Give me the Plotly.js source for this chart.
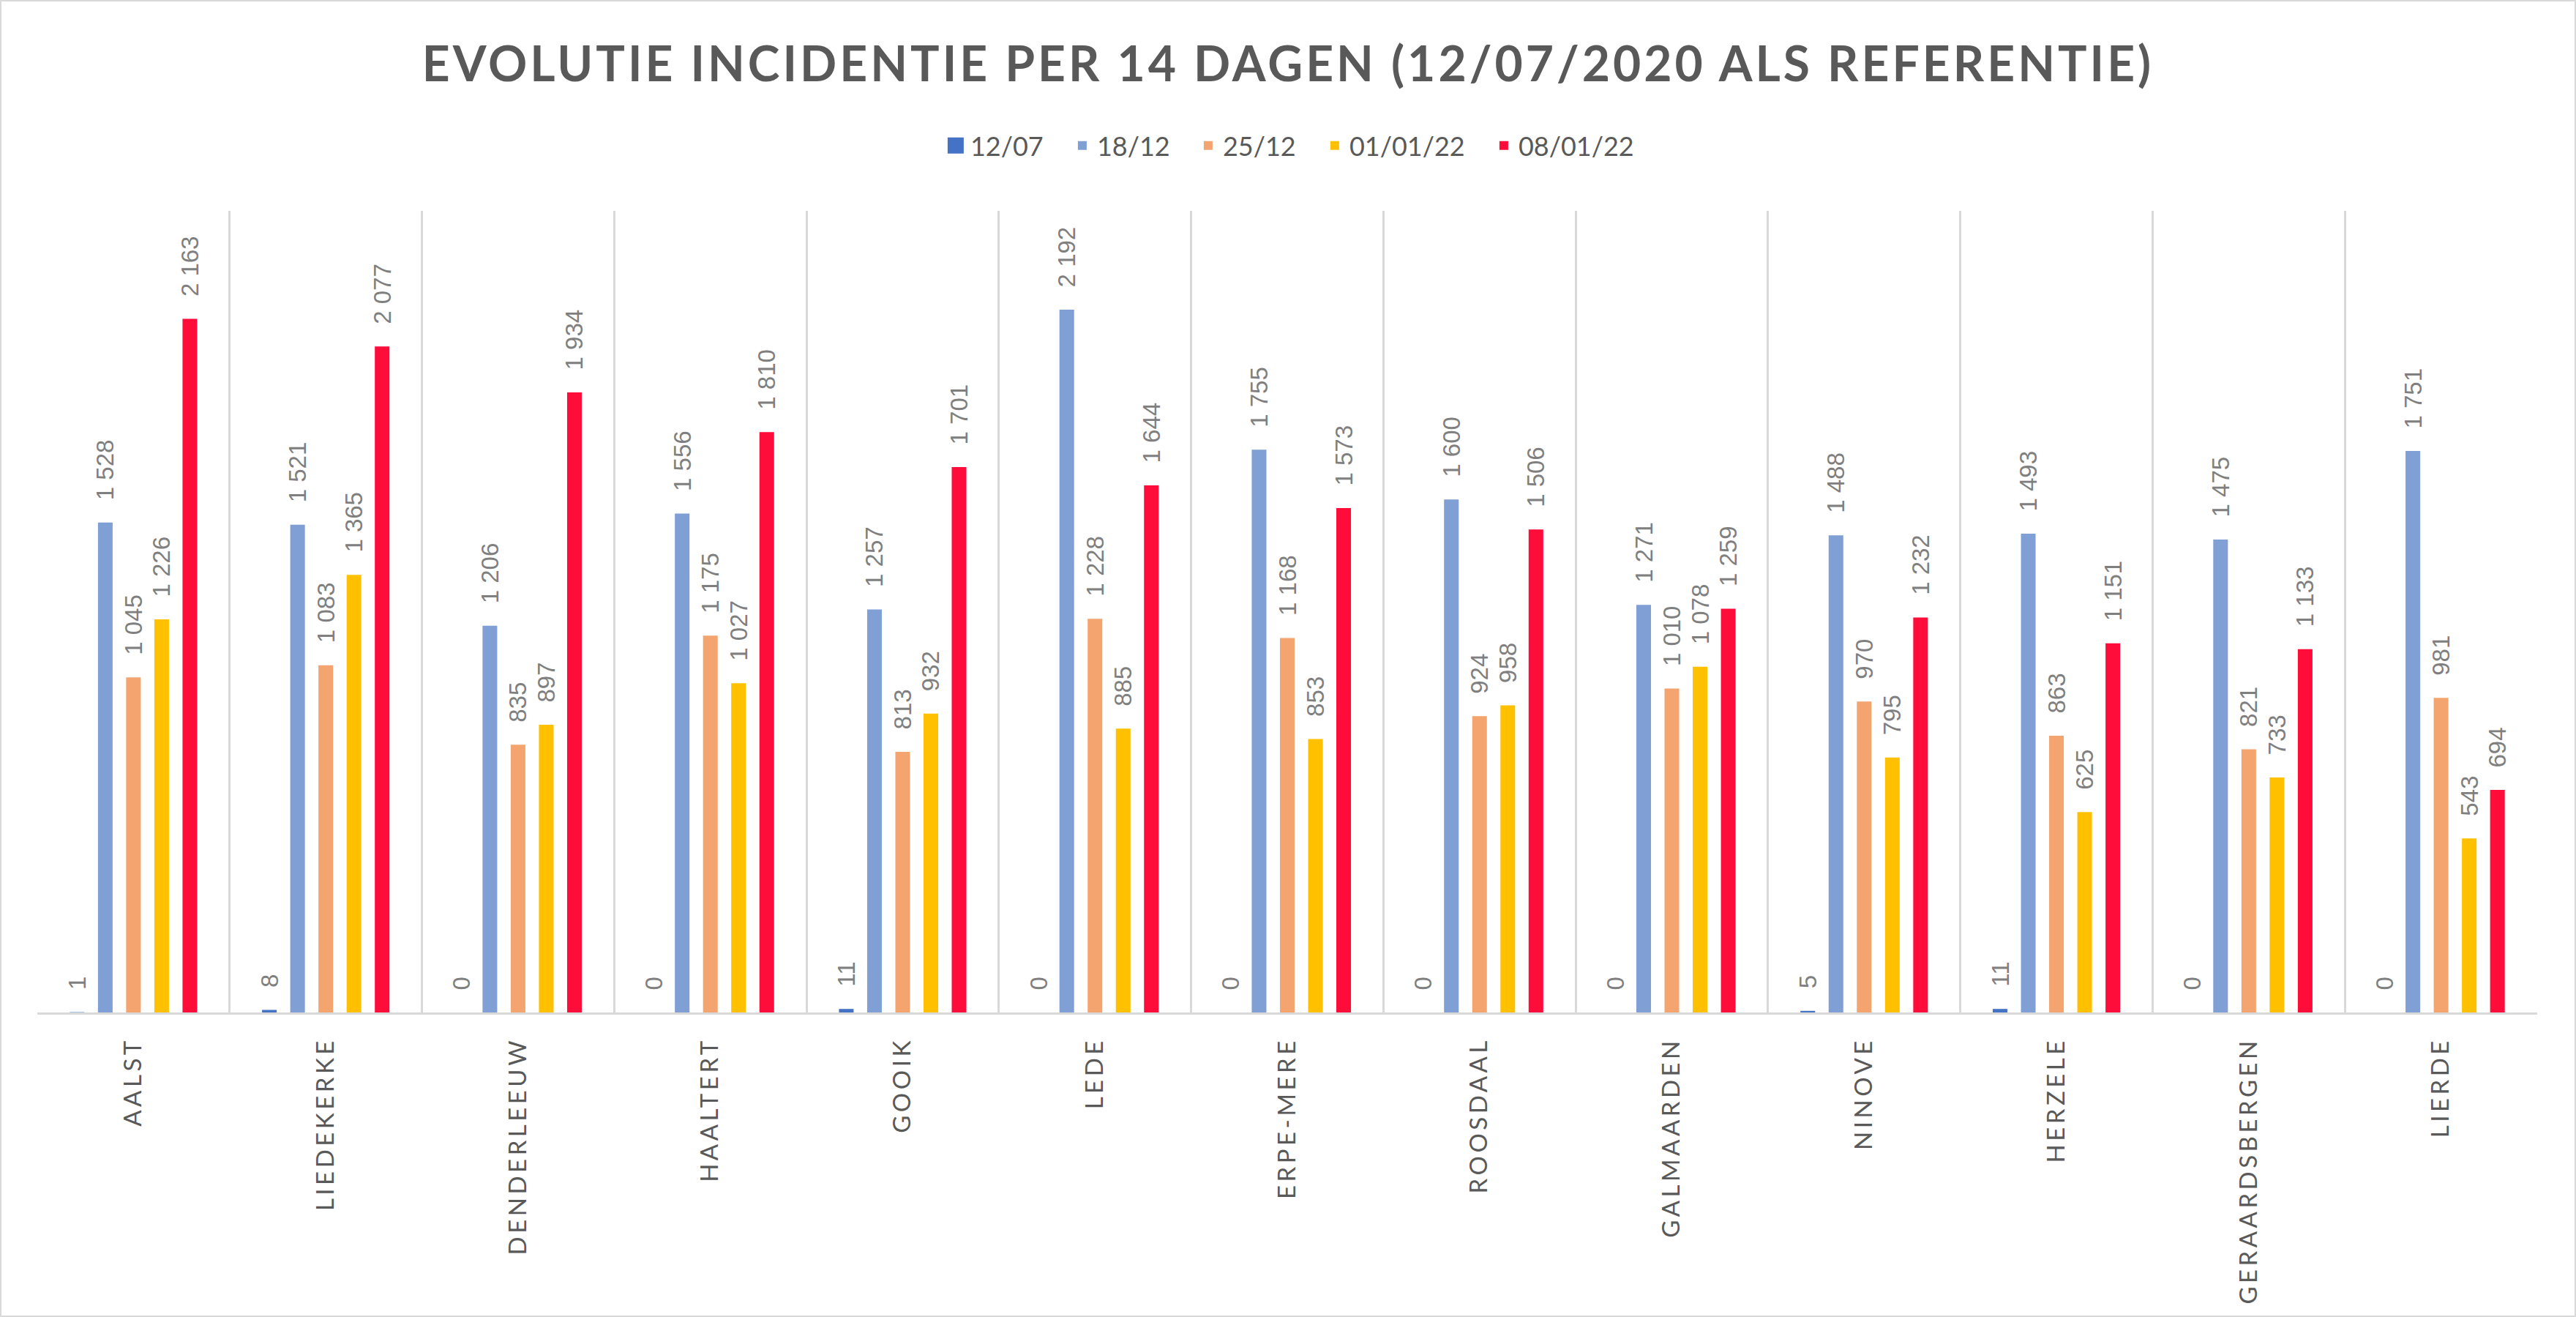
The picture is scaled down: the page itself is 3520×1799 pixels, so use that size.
<!DOCTYPE html>
<html>
<head>
<meta charset="utf-8">
<script src="https://cdn.plot.ly/plotly-3.0.1.min.js"></script>
<style>
  html, body { margin: 0; padding: 0; background: #ffffff; }
  #chart { width: 3516px; height: 1795px; border: 2px solid #D9D9D9; }
  #chart .xtick text { letter-spacing: 4.5px; }
  #chart .gtitle { letter-spacing: 4px; }
  #chart .legend .legendpoints path { d: path("M11,11H-11V-11H11Z"); }
</style>
</head>
<body>
<div id="chart"></div>
<script>
// ---- data ----
var categories = ["AALST", "LIEDEKERKE", "DENDERLEEUW", "HAALTERT", "GOOIK", "LEDE", "ERPE-MERE",
                  "ROOSDAAL", "GALMAARDEN", "NINOVE", "HERZELE", "GERAARDSBERGEN", "LIERDE"];
var seriesNames = ["12/07", "18/12", "25/12", "01/01/22", "08/01/22"];
var v1207   = [1, 8, 0, 0, 11, 0, 0, 0, 0, 5, 11, 0, 0];
var v1812   = [1528, 1521, 1206, 1556, 1257, 2192, 1755, 1600, 1271, 1488, 1493, 1475, 1751];
var v2512   = [1045, 1083, 835, 1175, 813, 1228, 1168, 924, 1010, 970, 863, 821, 981];
var v010122 = [1226, 1365, 897, 1027, 932, 885, 853, 958, 1078, 795, 625, 733, 543];
var v080122 = [2163, 2077, 1934, 1810, 1701, 1644, 1573, 1506, 1259, 1232, 1151, 1133, 694];
var titleText = "EVOLUTIE INCIDENTIE PER 14 DAGEN (12/07/2020 ALS REFERENTIE)";

// ---- styling ----
var colors = ["#4472C4", "#7F9FD5", "#F3A46F", "#FFC000", "#FF0D3A"];
var allValues = [v1207, v1812, v2512, v010122, v080122];
var legendIds = ["legend", "legend2", "legend3", "legend4", "legend5"];
var legendX = [0.36150, 0.41215, 0.46250, 0.51314, 0.58077];

function fmt(v) {
  return "\u00a0\u00a0\u00a0" + String(v).replace(/\B(?=(\d{3})+(?!\d))/g, " ");
}

var traces = allValues.map(function (vals, i) {
  return {
    type: "bar",
    name: seriesNames[i],
    x: categories,
    y: vals,
    text: vals.map(fmt),
    textposition: "outside",
    textangle: -90,
    constraintext: "none",
    cliponaxis: false,
    textfont: { family: "Liberation Sans, Arial, sans-serif", size: 33, color: "#7F7F7F" },
    marker: { color: colors[i], line: { width: 0 } },
    legend: legendIds[i],
    hoverinfo: "none"
  };
});

var layout = {
  width: 3516,
  height: 1795,
  margin: { l: 49, r: 51, t: 286, b: 414, pad: 0 },
  paper_bgcolor: "#ffffff",
  plot_bgcolor: "#ffffff",
  title: {
    text: titleText,
    font: { family: "Lato, Open Sans, sans-serif", size: 66, color: "#595959", weight: 700 },
    x: 0.5, xanchor: "center",
    yref: "container", y: 1 - 86 / 1795, yanchor: "middle"
  },
  barmode: "group",
  bargap: 0.267,
  bargroupgap: 0.48,
  xaxis: {
    type: "category",
    tickson: "boundaries",
    showgrid: true,
    gridcolor: "#D9D9D9",
    gridwidth: 3,
    showline: true,
    linecolor: "#D9D9D9",
    linewidth: 3,
    ticks: "",
    tickangle: -90,
    ticklabelstandoff: 18,
    tickfont: { family: "Lato, Open Sans, sans-serif", size: 33, color: "#595959" },
    fixedrange: true
  },
  yaxis: {
    range: [0, 2500],
    visible: false,
    showgrid: false,
    zeroline: false,
    fixedrange: true
  },
  showlegend: true,
  hovermode: false
};

legendIds.forEach(function (id, i) {
  layout[id] = {
    orientation: "h",
    x: legendX[i], xanchor: "left",
    y: 1.0814, yanchor: "middle",
    font: { family: "Lato, Open Sans, sans-serif", size: 36, color: "#595959" },
    bgcolor: "rgba(0,0,0,0)",
    borderwidth: 0
  };
});

Plotly.newPlot("chart", traces, layout, { displayModeBar: false, staticPlot: true });
</script>
</body>
</html>
